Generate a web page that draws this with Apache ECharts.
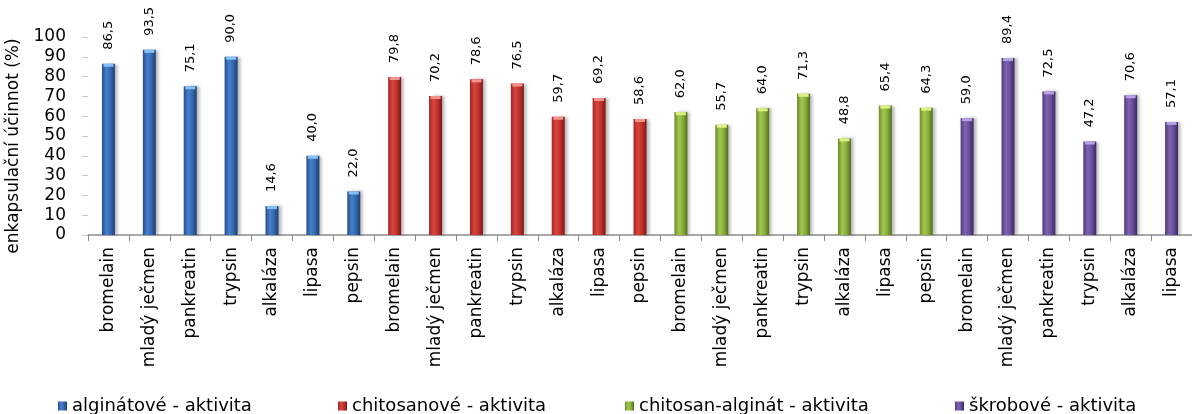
<!DOCTYPE html>
<html>
<head>
<meta charset="utf-8">
<title>Enkapsulační účinnost</title>
<script src="https://cdn.jsdelivr.net/npm/echarts@6.0.0/dist/echarts.min.js"></script>
<style>
  html, body { margin: 0; padding: 0; background: #fff; }
  #chart { width: 1192px; height: 414px; }
</style>
</head>
<body>
<div id="chart"></div>
<script>
// Enzyme names per capsule type (x-axis categories)
const alginateCats = ['bromelain', 'mladý ječmen', 'pankreatin', 'trypsin', 'alkaláza', 'lipasa', 'pepsin'];
const chitosanCats = ['bromelain', 'mladý ječmen', 'pankreatin', 'trypsin', 'alkaláza', 'lipasa', 'pepsin'];
const chitosanAlginateCats = ['bromelain', 'mladý ječmen', 'pankreatin', 'trypsin', 'alkaláza', 'lipasa', 'pepsin'];
const starchCats = ['bromelain', 'mladý ječmen', 'pankreatin', 'trypsin', 'alkaláza', 'lipasa'];

// Encapsulation efficiency (%) per capsule type
const alginateValues = [86.5, 93.5, 75.1, 90.0, 14.6, 40.0, 22.0];
const chitosanValues = [79.8, 70.2, 78.6, 76.5, 59.7, 69.2, 58.6];
const chitosanAlginateValues = [62.0, 55.7, 64.0, 71.3, 48.8, 65.4, 64.3];
const starchValues = [59.0, 89.4, 72.5, 47.2, 70.6, 57.1];

const seriesNames = ['alginátové - aktivita', 'chitosanové - aktivita', 'chitosan-alginát - aktivita', 'škrobové - aktivita'];
const yTicks = [0, 10, 20, 30, 40, 50, 60, 70, 80, 90, 100];
const yTitle = 'enkapsulační účinnot (%)';

const groups = [
  { cats: alginateCats, values: alginateValues },
  { cats: chitosanCats, values: chitosanValues },
  { cats: chitosanAlginateCats, values: chitosanAlginateValues },
  { cats: starchCats, values: starchValues }
];

// Cylinder-like shading per series: [edge, light, mid, dark edge, cap]
const palettes = [
  ['#244f8a', '#4680cc', '#3569b0', '#1c3f72', '#86c2f5'],
  ['#a22724', '#d9463f', '#c2302c', '#7a1916', '#f0938d'],
  ['#6a8b2d', '#a3c84f', '#88ae3a', '#526e1d', '#def283'],
  ['#503b7e', '#8063b1', '#684e99', '#3c2962', '#b8a1e3']
];

const categories = [].concat(...groups.map(g => g.cats));
const total = categories.length;

function groupStart(groupIndex) {
  let start = 0;
  for (let i = 0; i < groupIndex; i++) start += groups[i].cats.length;
  return start;
}

function padded(groupIndex) {
  const out = new Array(total).fill(null);
  const start = groupStart(groupIndex);
  groups[groupIndex].values.forEach((v, i) => { out[start + i] = v; });
  return out;
}

const FONT = 'DejaVu Sans';
const BAR_W = 13;
const LABEL_GAP = 14;

const series = [];
groups.forEach((g, gi) => {
  const p = palettes[gi];
  series.push({
    name: seriesNames[gi],
    type: 'bar',
    data: padded(gi),
    barWidth: BAR_W,
    barGap: '-100%',
    itemStyle: {
      color: {
        type: 'linear', x: 0, y: 0, x2: 1, y2: 0,
        colorStops: [
          { offset: 0, color: p[0] },
          { offset: 0.35, color: p[1] },
          { offset: 0.65, color: p[2] },
          { offset: 1, color: p[3] }
        ]
      },
      shadowColor: 'rgba(0,0,0,0.28)',
      shadowBlur: 3,
      shadowOffsetX: 3,
      shadowOffsetY: 0
    },
    z: 2
  });
  // light top cap on each bar
  series.push({
    name: seriesNames[gi] + ' cap',
    type: 'pictorialBar',
    data: padded(gi),
    symbol: 'rect',
    symbolSize: [BAR_W - 3, 3],
    symbolPosition: 'end',
    barWidth: BAR_W,
    barGap: '-100%',
    itemStyle: { color: p[4] },
    z: 3,
    silent: true
  });
  // vertical value labels above each bar
  const start = groupStart(gi);
  series.push({
    name: seriesNames[gi] + ' hodnoty',
    type: 'custom',
    data: g.values.map((v, i) => [start + i, v]),
    encode: { x: 0, y: 1 },
    silent: true,
    z: 4,
    renderItem: (params, api) => {
      const pt = api.coord([api.value(0), api.value(1)]);
      return {
        type: 'text',
        x: pt[0],
        y: pt[1] - LABEL_GAP,
        rotation: Math.PI / 2,
        style: {
          text: api.value(1).toFixed(1).replace('.', ','),
          fontFamily: FONT,
          fontSize: 13,
          fill: '#000',
          align: 'left',
          verticalAlign: 'middle'
        }
      };
    }
  });
});

const legendLefts = [53, 333, 620, 950];
const legends = seriesNames.map((n, i) => ({
  data: [n],
  left: legendLefts[i],
  top: 392,
  icon: 'rect',
  itemWidth: 9,
  itemHeight: 9,
  itemGap: 5,
  selectedMode: false,
  textStyle: { fontFamily: FONT, fontSize: 18, color: '#000' }
}));

const chart = echarts.init(document.getElementById('chart'), null, { renderer: 'canvas' });
chart.setOption({
  animation: false,
  backgroundColor: '#fff',
  grid: { left: 88, right: 0, top: 37, bottom: 179, containLabel: false },
  legend: legends,
  xAxis: {
    type: 'category',
    data: categories,
    boundaryGap: true,
    axisLine: { show: true, lineStyle: { color: '#8c8c8c', width: 1.5 } },
    axisTick: { show: true, length: 6, interval: 0, lineStyle: { color: '#8c8c8c' } },
    axisLabel: {
      interval: 0,
      rotate: 90,
      margin: 12,
      fontFamily: FONT,
      fontSize: 17,
      color: '#000'
    }
  },
  yAxis: {
    type: 'value',
    min: yTicks[0],
    max: yTicks[yTicks.length - 1],
    interval: yTicks[1] - yTicks[0],
    splitLine: { show: false },
    axisLine: { show: false },
    axisTick: { show: true, length: 6, lineStyle: { color: '#c8c8c8' } },
    axisLabel: { margin: 22, fontFamily: FONT, fontSize: 17, color: '#000' }
  },
  graphic: [{
    type: 'text',
    x: 14,
    y: 146,
    rotation: Math.PI / 2,
    style: {
      text: yTitle,
      fontFamily: FONT,
      fontSize: 17,
      fill: '#000',
      align: 'center',
      verticalAlign: 'middle'
    }
  }],
  series: series
});
</script>
</body>
</html>
